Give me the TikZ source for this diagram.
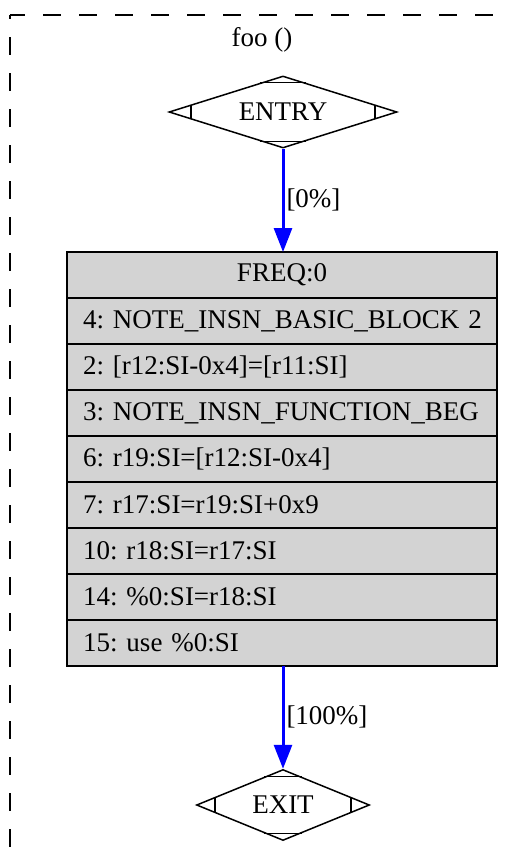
\documentclass[tikz,border=0pt]{standalone}
\usepackage{fontspec}
\setmainfont{Liberation Serif}
\usepackage{tikz}
\usetikzlibrary{arrows.meta,shapes.geometric,positioning,calc}
\frenchspacing
\definecolor{rowgray}{HTML}{D3D3D3}
\tikzset{
  gvnode/.style = {font=\fontsize{27}{32}\selectfont, inner sep=0pt},
  mdiam/.style = {gvnode, diamond, draw=black, line width=1.5pt, aspect=3},% Mdiamond
  insn/.style = {gvnode, rectangle, draw=black, fill=rowgray, line width=1.5pt,
    outer sep=0pt, minimum height=46pt, text width=398pt, inner xsep=16pt,
    align=left},% one insn per row
  freqrow/.style = {insn, align=center},
  cfgedge/.style = {draw=blue, line width=3pt,
    -{Triangle[length=24pt,width=18pt]}},
  elabel/.style = {gvnode, right, inner xsep=2pt},
  cluster/.style = {draw=black, line width=1.8pt, dash pattern=on 18pt off 18pt}
}
% corner cuts of an Mdiamond
\newcommand{\mdcuts}[2]{%
  \draw[line width=1.5pt] ($(#1.west)!#2!(#1.north)$) -- ($(#1.west)!#2!(#1.south)$);
  \draw[line width=1.5pt] ($(#1.east)!#2!(#1.north)$) -- ($(#1.east)!#2!(#1.south)$);
  \draw[line width=1.5pt] ($(#1.north)!#2!(#1.west)$) -- ($(#1.north)!#2!(#1.east)$);
  \draw[line width=1.5pt] ($(#1.south)!#2!(#1.west)$) -- ($(#1.south)!#2!(#1.east)$);
}

\begin{document}
\begin{tikzpicture}[x=1pt,y=-1pt]
\useasboundingbox (0,0) rectangle (508,852);
% cluster frame, runs off the page
\coordinate (cl_sw) at (10,900);
\coordinate (cl_nw) at (10,15);
\coordinate (cl_ne) at (560,15);
\draw[cluster, dash phase=14pt] (cl_nw) -- (cl_sw);
\draw[cluster, dash phase=3pt] (cl_nw) -- (cl_ne);
\node [gvnode] (title) at (262,40) {foo ()};

\node [mdiam, minimum width=228pt, minimum height=72pt] (entry) at (283,112) {ENTRY};
\mdcuts{entry}{0.2}

\node [freqrow] (freq) at (282,275) {FREQ:0};
\node [insn, below=0pt of freq] (bb) {4: NOTE\_INSN\_BASIC\_BLOCK~2};
\node [insn, below=0pt of bb] (i2) {2: [r12:SI-0x4]=[r11:SI]};
\node [insn, below=0pt of i2] (i3) {3: NOTE\_INSN\_FUNCTION\_BEG};
\node [insn, below=0pt of i3] (i6) {6: r19:SI=[r12:SI-0x4]};
\node [insn, below=0pt of i6] (i7) {7: r17:SI=r19:SI+0x9};
\node [insn, below=0pt of i7] (i10) {10: r18:SI=r17:SI};
\node [insn, below=0pt of i10] (i14) {14: \%0:SI=r18:SI};
\node [insn, below=0pt of i14] (i15) {15: use \%0:SI};

\node [mdiam, minimum width=173pt, minimum height=71pt] (exit) at (283,805) {EXIT};
\mdcuts{exit}{0.22}

\draw [cfgedge] (entry.south) -- (entry.south |- freq.north)
  node [elabel, midway] {[0\%]};
\draw [cfgedge] (exit.north |- i15.south) -- (exit.north)
  node [elabel, midway] {[100\%]};
\end{tikzpicture}
\end{document}
